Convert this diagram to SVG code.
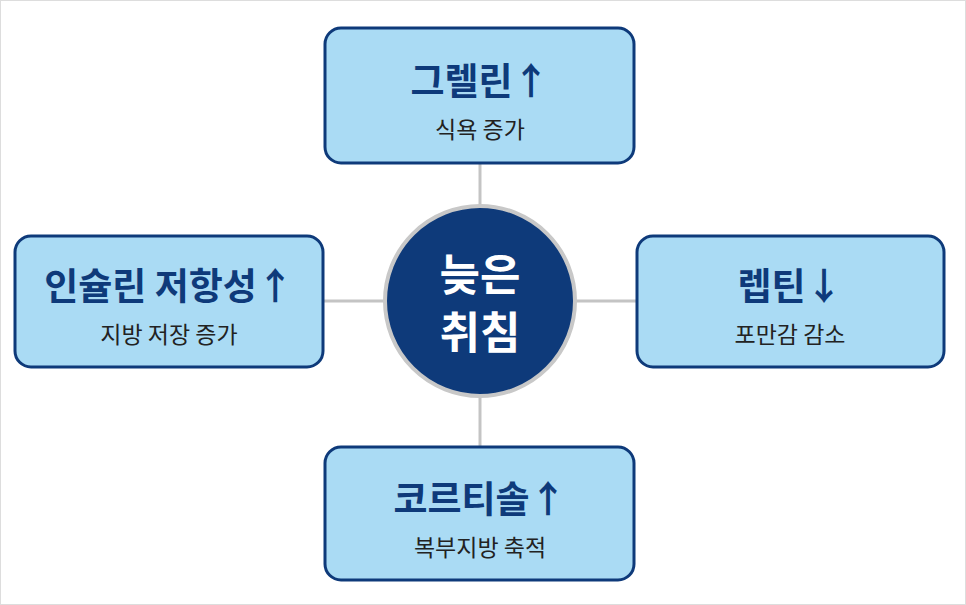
<svg xmlns="http://www.w3.org/2000/svg" width="966" height="605" viewBox="0 0 966 605">
<style>
.box{fill:#aadbf4;stroke:#0e3a7a;stroke-width:3}
.t{font-family:"Noto Sans CJK KR",sans-serif;font-weight:700;font-size:37px;fill:#0e3a7a;text-anchor:middle}
.s{font-family:"Noto Sans CJK KR",sans-serif;font-size:23px;fill:#222;text-anchor:middle}
.c{font-family:"Noto Sans CJK KR",sans-serif;font-weight:700;font-size:44px;fill:#fff;text-anchor:middle}
</style>
<rect x="0.5" y="0.5" width="965" height="604" fill="#fff" stroke="#ddd"/>
<g id="connectors" stroke="#c4c4c4" stroke-width="3">
<line x1="480" y1="163" x2="480" y2="208"/>
<line x1="480" y1="396" x2="480" y2="447"/>
<line x1="323" y1="301" x2="386" y2="301"/>
<line x1="574" y1="301" x2="637" y2="301"/>
</g>
<g id="center">
<circle cx="480" cy="301" r="95" fill="#0e3a7a" stroke="#c8c8c8" stroke-width="4"/>
<text class="c" x="480" y="291">늦은</text>
<text class="c" x="480" y="349">취침</text>
</g>
<g id="top">
<rect class="box" x="325" y="28" width="309" height="135" rx="16"/>
<text class="t" x="480" y="95">그렐린↑</text>
<text class="s" x="480" y="138">식욕 증가</text>
</g>
<g id="left">
<rect class="box" x="15" y="236" width="308" height="131" rx="16"/>
<text class="t" x="169" y="300">인슐린 저항성↑</text>
<text class="s" x="169" y="343">지방 저장 증가</text>
</g>
<g id="right">
<rect class="box" x="637" y="236" width="307" height="131" rx="16"/>
<text class="t" x="790" y="300">렙틴↓</text>
<text class="s" x="790" y="343">포만감 감소</text>
</g>
<g id="bottom">
<rect class="box" x="325" y="447" width="309" height="133" rx="16"/>
<text class="t" x="480" y="513">코르티솔↑</text>
<text class="s" x="480" y="556">복부지방 축적</text>
</g>
</svg>
